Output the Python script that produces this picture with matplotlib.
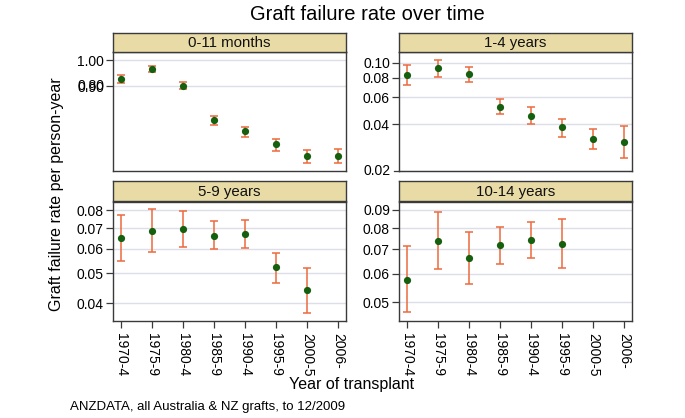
import matplotlib
matplotlib.use("Agg")
import matplotlib.pyplot as plt
import numpy as np

plt.rcParams['font.family'] = ['Liberation Sans', 'DejaVu Sans']

categories = ['1970-4', '1975-9', '1980-4', '1985-9', '1990-4', '1995-9', '2000-5', '2006-']

panel_titles = ['0-11 months', '1-4 years', '5-9 years', '10-14 years']

rate_0_11m = [0.927, 0.965, 0.899, 0.783, 0.749, 0.711, 0.677, 0.678]
lo_0_11m = [0.912, 0.953, 0.888, 0.768, 0.733, 0.692, 0.659, 0.660]
hi_0_11m = [0.942, 0.976, 0.914, 0.796, 0.763, 0.727, 0.695, 0.697]

rate_1_4y = [0.0838, 0.0922, 0.0847, 0.0520, 0.0455, 0.0383, 0.0323, 0.0308]
lo_1_4y = [0.0724, 0.0808, 0.0748, 0.0464, 0.0402, 0.0334, 0.0279, 0.0243]
hi_1_4y = [0.0967, 0.1044, 0.0945, 0.0585, 0.0515, 0.0436, 0.0373, 0.0389]

rate_5_9y = [0.0649, 0.0686, 0.0696, 0.0662, 0.0671, 0.0522, 0.0442]
lo_5_9y = [0.0547, 0.0585, 0.0607, 0.0597, 0.0602, 0.0464, 0.0373]
hi_5_9y = [0.0771, 0.0806, 0.0796, 0.0735, 0.0741, 0.0583, 0.0519]

rate_10_14y = [0.0577, 0.0737, 0.0663, 0.0720, 0.0742, 0.0726]
lo_10_14y = [0.0470, 0.0616, 0.0562, 0.0638, 0.0662, 0.0622]
hi_10_14y = [0.0714, 0.0887, 0.0780, 0.0808, 0.0831, 0.0848]

yticks_0_11m = [1.00, 0.90, 0.90]
ylabels_0_11m = ['1.00', '0.90', '0.80']
yticks_1_4y = [0.10, 0.08, 0.06, 0.04, 0.02]
yticks_5_9y = [0.08, 0.07, 0.06, 0.05, 0.04]
yticks_10_14y = [0.09, 0.08, 0.07, 0.06, 0.05]

ylims = [(0.638, 1.033), (0.0216, 0.1175), (0.0351, 0.0853), (0.0445, 0.0948)]

W, H = 685, 418
fig = plt.figure(figsize=(W / 100, H / 100), dpi=100)

HEADER_COLOR = '#E8DBA6'
EDGE = '#3a3a3a'
GRID = '#DCDFE8'
ERR = '#EE6A3E'
DOT = '#14600F'

def fx(px):
    return px / W

def fy(py):
    return 1 - py / H

# panel boxes in pixel coords: (left, right, header_top, plot_top, plot_bottom)
boxes = [
    (113, 346, 33, 52, 171),
    (399, 632, 33, 52, 171),
    (113, 346, 181, 201.5, 320.7),
    (399, 632, 181.5, 201.5, 320.7),
]

data = [
    (rate_0_11m, lo_0_11m, hi_0_11m, yticks_0_11m, ylabels_0_11m),
    (rate_1_4y, lo_1_4y, hi_1_4y, yticks_1_4y, [f'{v:.2f}' for v in yticks_1_4y]),
    (rate_5_9y, lo_5_9y, hi_5_9y, yticks_5_9y, [f'{v:.2f}' for v in yticks_5_9y]),
    (rate_10_14y, lo_10_14y, hi_10_14y, yticks_10_14y, [f'{v:.2f}' for v in yticks_10_14y]),
]

xpos = np.arange(len(categories))

for i, ((l, r, ht, pt, pb), (rate, lo, hi, ticks, labels)) in enumerate(zip(boxes, data)):
    ax = fig.add_axes([fx(l), fy(pb), fx(r - l), (pb - pt) / H])
    hax = fig.add_axes([fx(l), fy(pt), fx(r - l), (pt - ht) / H])
    hax.set_facecolor(HEADER_COLOR)
    hax.set_xticks([])
    hax.set_yticks([])
    for s in hax.spines.values():
        s.set_color(EDGE)
        s.set_linewidth(1.0)
    hax.text(0.5, 0.47, panel_titles[i], ha='center', va='center', fontsize=10.8,
             transform=hax.transAxes, color='#111111')

    ax.set_yscale('log')
    ax.set_ylim(*ylims[i])
    ax.set_xlim(-0.26, 7.26)
    n = len(rate)
    rate = np.array(rate)
    yerr = np.vstack([rate - np.array(lo), np.array(hi) - rate])
    ax.errorbar(xpos[:n], rate, yerr=yerr, fmt='none', ecolor=ERR, elinewidth=1.1,
                capsize=2.9, capthick=1.1, zorder=3)
    ax.plot(xpos[:n], rate, 'o', color=DOT, markersize=5.2, markeredgewidth=0, zorder=4)

    ax.yaxis.set_minor_locator(matplotlib.ticker.NullLocator())
    ax.xaxis.set_minor_locator(matplotlib.ticker.NullLocator())
    uniq = []
    for t in ticks:
        if t not in uniq:
            uniq.append(t)
    ax.set_yticks(uniq)
    if i == 0:
        ax.set_yticklabels([labels[0], labels[1]])
        tr = ax.get_yaxis_transform()
        for t, lab in zip(ticks[2:], labels[2:]):
            ax.text(-0.035, t, lab, transform=tr, ha='right', va='center', fontsize=10)
    elif i == 1:
        inside = [t for t in uniq if ylims[i][0] <= t <= ylims[i][1]]
        ax.set_yticks(inside)
        ax.set_yticklabels([f'{v:.2f}' for v in inside])
        tr = ax.get_yaxis_transform()
        for t in uniq:
            if t < ylims[i][0]:
                ax.plot([0, 1], [t, t], transform=tr, color=GRID, lw=1.0, clip_on=False, zorder=0)
                ax.plot([-0.022, 0], [t, t], transform=tr, color=EDGE, lw=0.9, clip_on=False)
                ax.text(-0.035, t, f'{t:.2f}', transform=tr, ha='right', va='center', fontsize=10)
    else:
        ax.set_yticklabels(labels)
    ax.grid(axis='y', color=GRID, lw=1.0, zorder=0)
    ax.set_axisbelow(True)
    ax.tick_params(axis='y', length=5, width=0.9, color=EDGE, labelsize=10, pad=1.5)
    if i >= 2:
        ax.set_xticks(xpos)
        ax.set_xticklabels(categories, rotation=-90, fontsize=10)
        ax.tick_params(axis='x', length=5, width=0.9, color=EDGE, pad=3.5)
    else:
        ax.set_xticks([])
    for s in ax.spines.values():
        s.set_color(EDGE)
        s.set_linewidth(1.0)

fig.text(fx(367), fy(14), 'Graft failure rate over time', ha='center', va='center', fontsize=14.5)
fig.text(fx(57), fy(194), 'Graft failure rate per person-year', ha='center', va='center',
         rotation=90, fontsize=11.5)
fig.text(fx(352), fy(384), 'Year of transplant', ha='center', va='center', fontsize=11.5)
fig.text(fx(70), fy(407), 'ANZDATA, all Australia & NZ grafts, to 12/2009', ha='left',
         va='center', fontsize=9.5)

fig.savefig('out.png', dpi=100)
